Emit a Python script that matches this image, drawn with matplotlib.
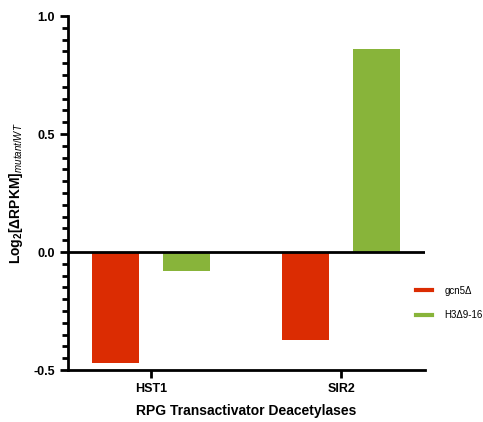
import matplotlib
matplotlib.use("Agg")
import matplotlib.pyplot as plt
from matplotlib.ticker import MultipleLocator

plt.rcParams['font.family'] = ['Liberation Sans', 'DejaVu Sans']
plt.rcParams['mathtext.fontset'] = 'custom'
plt.rcParams['mathtext.rm'] = 'Liberation Sans'
plt.rcParams['mathtext.it'] = 'Liberation Sans:italic'
plt.rcParams['mathtext.bf'] = 'Liberation Sans:bold'

categories = ['HST1', 'SIR2']
gcn5 = [-0.47, -0.373]
h3 = [-0.08, 0.86]
series_names = ['gcn5Δ', 'H3Δ9-16']
colors = ['#DB2C02', '#88B43A']

fig = plt.figure(figsize=(4.83, 4.22), dpi=100)
ax = fig.add_axes([0.141, 0.123, 0.739, 0.839])

x = list(range(len(categories)))
w = 0.247
off = 0.187
ax.bar([i - off for i in x], gcn5, w, color=colors[0], label=series_names[0])
ax.bar([i + off for i in x], h3, w, color=colors[1], label=series_names[1])

ax.axhline(0, color='black', lw=2, zorder=3)
ax.set_xlim(-0.437, 1.442)
ax.set_ylim(-0.5, 1.0)

for s in ['top', 'right']:
    ax.spines[s].set_visible(False)
for s in ['left', 'bottom']:
    ax.spines[s].set_linewidth(2)

ax.yaxis.set_major_locator(MultipleLocator(0.5))
ax.yaxis.set_minor_locator(MultipleLocator(0.05))
ax.set_yticks([-0.5, 0.0, 0.5, 1.0])
ax.set_yticklabels(['-0.5', '0.0', '0.5', '1.0'])
ax.set_xticks(x)
ax.set_xticklabels(categories)
ax.tick_params(axis='both', which='major', width=2, length=6, labelsize=9)
ax.tick_params(axis='y', which='minor', width=2, length=4)
for lab in ax.get_xticklabels() + ax.get_yticklabels():
    lab.set_fontweight('bold')

ax.set_xlabel('RPG Transactivator Deacetylases', fontsize=10, fontweight='bold', labelpad=6)
ax.set_ylabel(r'$\mathbf{Log_2[\Delta RPKM]}_{\mathit{mutant/WT}}$', fontsize=10, labelpad=6)

handles = [plt.Line2D([], [], color=c, lw=3) for c in colors]
ax.legend(handles, series_names, loc='center left', bbox_to_anchor=(0.95, 0.19),
          frameon=False, fontsize=7, handlelength=1.7, handletextpad=1.2,
          labelspacing=1.5)

fig.savefig('out.png', dpi=100)
